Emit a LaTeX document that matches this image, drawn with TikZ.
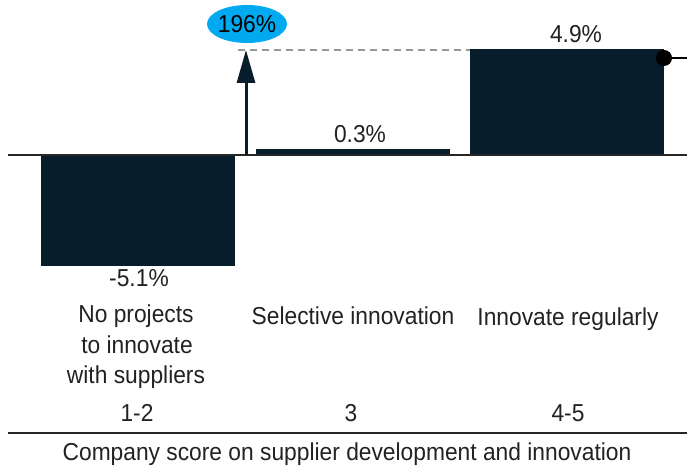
\documentclass[tikz,border=0pt]{standalone}
\usepackage{fontspec}
\setmainfont{Liberation Sans}[FakeStretch=0.93]
\usetikzlibrary{arrows.meta,shapes.geometric}
\definecolor{navy}{HTML}{071D2C}
\definecolor{skyc}{HTML}{00A9F0}
\definecolor{txt}{HTML}{222222}
\tikzset{
  bar/.style={fill=navy, draw=none, inner sep=0pt, outer sep=0pt},
  lbl/.style={text=txt, inner sep=0pt, anchor=base, font=\fontsize{24.5}{30}\selectfont},
  cat/.style={lbl, align=center},
  axisline/.style={draw=black!85, line width=1.3pt},
  upArrow/.style={draw=navy, line width=3pt, -{Triangle[width=18pt,length=33pt]}},
  guide/.style={draw=black!40, line width=1.3pt, dash pattern=on 7pt off 5pt},
}
\begin{document}
\begin{tikzpicture}[x=1pt,y=-1pt]
\useasboundingbox (0,0) rectangle (687,468);
% bars
\node[bar, anchor=north west, minimum width=194pt, minimum height=111pt] (b1) at (41,155) {};
\node[bar, anchor=south west, minimum width=194pt, minimum height=6pt] (b2) at (256,155) {};
\node[bar, anchor=south west, minimum width=194pt, minimum height=106pt] (b3) at (470,155) {};
% baseline
\coordinate (bl0) at (8,155);
\coordinate (bl1) at (687,155);
\draw[axisline] (bl0) -- (bl1);
% dashed guide and arrow
\coordinate (dashstart) at (238,50);
\coordinate (dashend) at (470,50);
\draw[guide] (dashstart) -- (dashend);
\coordinate (abase) at (246,155);
\coordinate (atip) at (246,50);
\draw[upArrow] (abase) -- (atip);
\node[ellipse, fill=skyc, minimum width=80pt, minimum height=38pt, inner sep=0pt] (oval) at (247,24) {};
\node[lbl, text=black] (ovaltxt) at (247,32.5) {196\%};
% dot at right
\node[circle, fill=black, minimum size=16pt, inner sep=0pt] (dot) at (664,58) {};
\coordinate (edge) at (687,58);
\draw[line width=2.5pt] (dot) -- (edge);
% value labels
\node[lbl] (v1) at (139,286) {-5.1\%};
\node[lbl] (v2) at (360,142) {0.3\%};
\node[lbl] (v3) at (576,43) {4.9\%};
% category labels
\node[lbl] (c1a) at (136,322) {No projects};
\node[lbl] (c1b) at (137,353) {to innovate};
\node[lbl] (c1c) at (136,383) {with suppliers};
\node[lbl] (c2) at (353,324) {Selective innovation};
\node[lbl] (c3) at (568,325) {Innovate regularly};
% scores
\node[lbl] (s1) at (137,421) {1-2};
\node[lbl] (s2) at (351,421) {3};
\node[lbl] (s3) at (568,421) {4-5};
% bottom line
\coordinate (bb0) at (8,433);
\coordinate (bb1) at (687,433);
\draw[axisline] (bb0) -- (bb1);
\node[lbl] (title) at (347,460) {Company score on supplier development and innovation};
\end{tikzpicture}
\end{document}
